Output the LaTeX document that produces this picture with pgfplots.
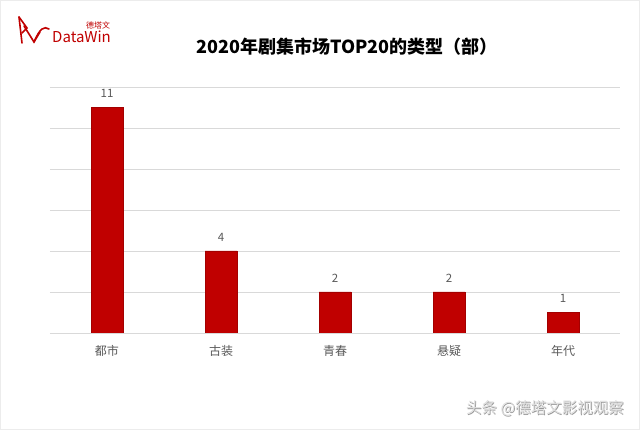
\documentclass[border=0pt]{standalone}
\usepackage{fontspec}
\setmainfont{Noto Sans CJK SC}
\usepackage{pgfplots}
\pgfplotsset{compat=1.18}
\definecolor{barred}{HTML}{C00000}
\definecolor{lbl}{HTML}{595959}
\begin{document}
\begin{tikzpicture}
\fill[white] (0pt,0pt) rectangle (640pt,430pt);
\draw[gray!15] (0.5pt,0.5pt) rectangle (639.5pt,429.5pt);
% logo
\begin{scope}[barred, line width=1.6pt, line cap=round]
\draw (19pt,413pt) -- (22pt,387pt);
\draw (19pt,413pt) -- (27pt,402pt) -- (22pt,397pt);
\draw (24pt,404pt) -- (34pt,388pt) -- (40pt,398pt);
\draw (34pt,388pt) .. controls (40pt,402pt) and (44pt,404pt) .. (49pt,401pt);
\end{scope}
\node[anchor=base west, text=barred, font=\fontsize{15}{16}\selectfont, inner sep=0] at (52pt,387pt) {DataWin};
\node[anchor=base west, text=barred, font=\fontsize{8}{9}\selectfont, inner sep=0] at (86pt,401pt) {德塔文};
% title
\node[font=\fontsize{18}{21}\selectfont\bfseries] at (347pt,383pt) {2020年剧集市场TOP20的类型（部）};
\begin{axis}[at={(50pt,97pt)}, anchor=south west, scale only axis,
  width=570pt, height=246pt,
  xmin=-0.5, xmax=4.5, ymin=0, ymax=12,
  ytick={0,2,...,12}, yticklabels={},
  ymajorgrids, grid style={draw=gray!30, line width=0.8pt},
  axis line style={draw=none}, major tick length=0,
  xtick={0,...,4}, xticklabels={都市,古装,青春,悬疑,年代},
  xticklabel style={text=lbl, font=\fontsize{12}{14}\selectfont, yshift=-9pt},
  ybar, bar width=32pt,
  /pgf/number format/assume math mode=true,
  nodes near coords,
  nodes near coords style={text=lbl, font=\fontsize{11.5}{13}\selectfont, yshift=6pt},
]
\addplot[fill=barred, draw=barred!85!black] coordinates {(0,11) (1,4) (2,2) (3,2) (4,1)};
\end{axis}
% watermark
\node[font=\fontsize{15.5}{17}\selectfont, text=gray!80, inner sep=0] at (545.8pt,21.2pt) {头条 @德塔文影视观察};
\node[font=\fontsize{15.5}{17}\selectfont, text=gray!25, inner sep=0] at (545pt,22pt) {头条 @德塔文影视观察};
\end{tikzpicture}
\end{document}
